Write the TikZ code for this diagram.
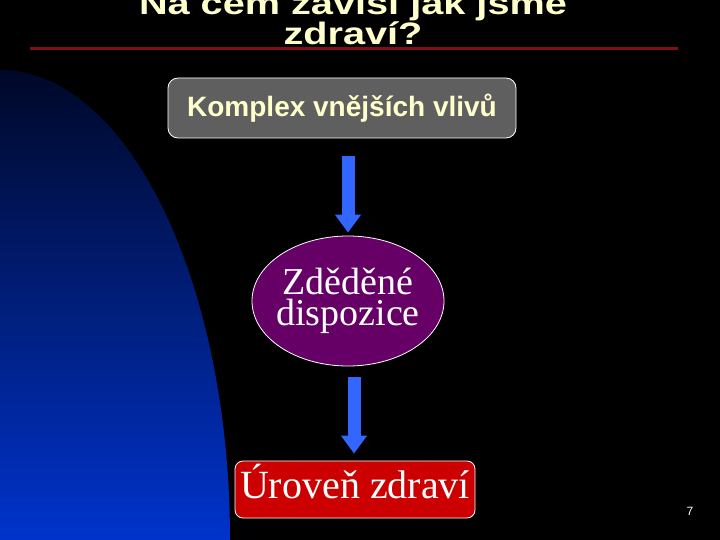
\documentclass[tikz,border=0pt]{standalone}
\usepackage{fontspec}
\setmainfont{Liberation Serif}
\setsansfont{Liberation Sans}
\newfontfamily\titlefont[FakeStretch=1.28]{Liberation Sans}
\usetikzlibrary{shapes.geometric,arrows.meta}
\definecolor{krem}{RGB}{255,255,204}
\definecolor{sedabox}{RGB}{95,95,95}
\definecolor{fialova}{RGB}{102,0,102}
\definecolor{cervena}{RGB}{204,0,0}
\definecolor{modra}{RGB}{51,102,255}
\definecolor{bordo}{RGB}{128,16,16}
\definecolor{tmavamodra}{RGB}{0,8,40}
\definecolor{svetlamodra}{RGB}{0,51,204}

\begin{document}
\begin{tikzpicture}[x=1pt,y=-1pt,
    ramecek/.style={draw=white,line width=0.8pt},
    sipka/.style={modra,line width=13pt,-{Triangle[width=25pt,length=18pt]}}]
        \fill[black] (0,0) rectangle (720,540);
        \useasboundingbox (0,0) rectangle (720,540);
        % modry oblouk vlevo
        \shade[top color=tmavamodra,bottom color=svetlamodra] (0,540) -- (0,70)
            arc[start angle=-90,end angle=0,x radius=230,y radius=470] -- cycle;
        \node[text=krem,anchor=base,align=center,
              font=\titlefont\bfseries\fontsize{31}{29}\selectfont] (nadpis) at (353,45)
            {Na čem závisí jak jsme\\zdraví?};
        \draw[bordo,line width=3pt] (30,48.5) -- (678,48.5);
        \node[ramecek,fill=sedabox,rounded corners=10pt,minimum width=348pt,minimum height=60pt,
              text=krem,font=\sffamily\bfseries\fontsize{28}{32}\selectfont] (vlivy) at (342,108)
            {Komplex vnějších vlivů};
        \node[ramecek,ellipse,fill=fialova,minimum width=192pt,minimum height=130pt,
              inner xsep=-4pt,inner ysep=0pt,text=white,align=center,
              font=\fontsize{38}{31}\selectfont] (dispozice) at (348,301)
            {Zděděné\\dispozice};
        \node[ramecek,fill=cervena,rounded corners=8pt,minimum width=240pt,minimum height=55pt,
              text depth=16pt,text=white,font=\fontsize{40}{42}\selectfont] (zdravi) at (355,489.5)
            {Úroveň zdraví};
        \draw[sipka] ([xshift=6pt,yshift=-18pt]vlivy.south) -- ([yshift=3pt]dispozice.north);
        \draw[sipka] ([xshift=6pt,yshift=-11pt]dispozice.south) -- ([xshift=-1pt,yshift=7pt]zdravi.north);
        \node[text=white,font=\sffamily\fontsize{12}{14}\selectfont] (strana) at (690,511) {7};
\end{tikzpicture}
\end{document}
